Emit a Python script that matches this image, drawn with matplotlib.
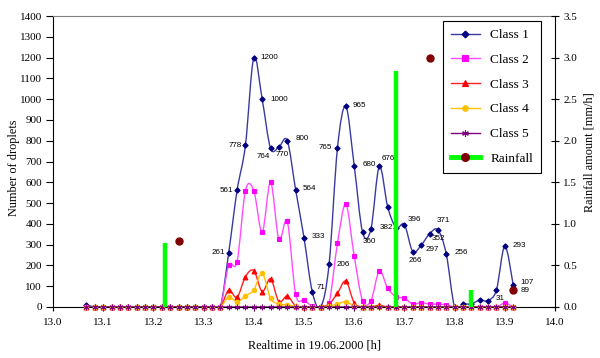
import numpy as np
import matplotlib
matplotlib.use("Agg")
import matplotlib.pyplot as plt
from matplotlib.path import Path
from matplotlib.patches import PathPatch
from matplotlib.lines import Line2D

# minutes after 13:00, one sample per minute
minutes = list(range(4, 56))

class1 = [10] + [0] * 16 + [261, 561, 778, 1200, 1000, 764, 770, 800, 564, 333,
                            71, 0, 206, 765, 965, 680, 360, 375, 676, 482,
                            382, 396, 266, 297, 352, 371, 256, 0, 14, 15,
                            33, 31, 82, 293, 107]
class2 = [0] * 17 + [200, 218, 560, 560, 360, 600, 325, 412, 62, 32,
                     5, 0, 20, 307, 494, 245, 30, 30, 173, 90,
                     50, 42, 14, 21, 14, 14, 10, 0, 0, 0,
                     0, 0, 0, 19, 0]
class3 = [0] * 17 + [80, 47, 146, 175, 74, 136, 26, 53, 5, 0,
                     0, 0, 14, 66, 125, 20, 0, 0, 8, 0] + [0] * 15
class4 = [0] * 17 + [47, 26, 53, 82, 162, 42, 14, 10, 3, 0,
                     0, 0, 5, 14, 26, 5, 0, 0, 0, 0] + [0] * 15
class5 = [0] * 52

rain_bar_time = [13.223, 13.683, 13.833]
rain_bar_amount = [0.77, 2.84, 0.21]
rain_dot_time = [13.25, 13.75, 13.917]
rain_dot_amount = [0.79, 3.0, 0.2]

# data labels on class 1: (index, text)
c1_labels = [(17, "261"), (18, "561"), (19, "778"), (20, "1200"), (21, "1000"),
             (22, "764"), (23, "770"), (24, "800"), (25, "564"), (26, "333"),
             (27, "71"), (29, "206"), (30, "765"), (31, "965"), (32, "680"),
             (33, "360"), (35, "676"), (37, "382"), (38, "396"), (39, "266"),
             (40, "297"), (41, "352"), (42, "371"), (43, "256"), (48, "31"),
             (50, "293"), (51, "107")]
# label placement in pixels (dx, dy downwards, ha)
c1_label_pos = {17: (-4, 0, "right"), 18: (-4, 0, "right"), 19: (-4, 0, "right"),
                20: (7, 0, "left"), 21: (8, 0, "left"), 22: (-7, 8, "center"),
                23: (3, 8, "center"), 24: (8, -2, "left"), 25: (7, -1, "left"),
                26: (8, -1, "left"), 27: (4, -5, "left"), 29: (7, 0, "left"),
                30: (-5, 0, "right"), 31: (7, -1, "left"), 32: (8, -1, "left"),
                33: (7, 9, "center"), 35: (2, -8, "left"), 37: (-3, 0, "right"),
                38: (3, -5, "left"), 39: (3, 9, "center"), 40: (4, 4, "left"),
                41: (2, 5, "left"), 42: (5, -9, "center"), 43: (8, -1, "left"),
                48: (8, -2, "left"), 50: (8, -1, "left"), 51: (7, -2, "left")}

t = np.array([13 + m / 60 for m in minutes])


def smooth_path(xs, ys):
    pts = np.column_stack([xs, ys]).astype(float)
    n = len(pts)
    verts = [pts[0]]
    codes = [Path.MOVETO]
    for i in range(n - 1):
        p0 = pts[max(i - 1, 0)]
        p1 = pts[i]
        p2 = pts[i + 1]
        p3 = pts[min(i + 2, n - 1)]
        verts += [p1 + (p2 - p0) / 6, p2 - (p3 - p1) / 6, p2]
        codes += [Path.CURVE4] * 3
    return Path(verts, codes)


plt.rcParams['font.family'] = ['Liberation Serif', 'DejaVu Serif']

fig = plt.figure(figsize=(6, 3.58), dpi=100)
ax = fig.add_axes([53 / 600, 51 / 358, 502 / 600, 291 / 358])

series = [
    (class1, "Class 1", "#3a3aa0", "#000080", "D", 2.7),
    (class2, "Class 2", "#ff4cff", "#ff00ff", "s", 3.0),
    (class3, "Class 3", "#ff2020", "#ff0000", "^", 3.5),
    (class4, "Class 4", "#ffc000", "#ffc000", "o", 3.2),
    (class5, "Class 5", "#800080", "#800080", (6, 2, 0), 4.0),
]
handles = []
for vals, name, lc, mc, mk, ms in series:
    ax.add_patch(PathPatch(smooth_path(t, vals), facecolor="none",
                           edgecolor=lc, lw=1.0, zorder=2))
    ax.plot(t, vals, ls="none", marker=mk, ms=ms, mfc=mc, mec=mc, mew=0.8,
            clip_on=False, zorder=3)
    handles.append(Line2D([], [], color=lc, lw=1.0, marker=mk, ms=ms + 0.8,
                          mfc=mc, mec=mc, mew=0.8, label=name))

for idx, txt in c1_labels:
    dx, dy, ha = c1_label_pos[idx]
    ax.annotate(txt, (t[idx], class1[idx]), xytext=(dx, -dy),
                textcoords="offset pixels", ha=ha, va="center",
                fontsize=5.8, family="Liberation Sans", zorder=5)

ax.set_xlim(13.0, 14.0)
ax.set_ylim(0, 1400)
ax.set_xticks(np.arange(13.0, 14.01, 0.1))
ax.set_xticklabels([f"{v:.1f}" for v in np.arange(13.0, 14.01, 0.1)])
ax.set_yticks(range(0, 1401, 100))
ax.tick_params(axis="y", direction="out", length=5, width=0.8, labelsize=8, pad=3)
ax.tick_params(axis="x", direction="out", length=3, width=0.8, labelsize=8, pad=5)
ax.spines["top"].set_color("#808080")
ax.spines["right"].set_visible(False)
for s in ("left", "bottom"):
    ax.spines[s].set_linewidth(0.8)

ax2 = ax.twinx()
ax2.set_ylim(0, 3.5)
ax2.set_yticks(np.arange(0, 3.51, 0.5))
ax2.set_yticklabels([f"{v:.1f}" for v in np.arange(0, 3.51, 0.5)])
ax2.tick_params(axis="y", direction="inout", length=6, width=0.8, labelsize=8, pad=3)
ax2.spines["right"].set_linewidth(0.8)
ax2.spines["top"].set_visible(False)
ax2.spines["left"].set_visible(False)
ax2.spines["bottom"].set_visible(False)

ax2.vlines(rain_bar_time, 0, rain_bar_amount, color="#00ff00", lw=3.2, zorder=4)
ax2.plot(rain_dot_time, rain_dot_amount, ls="none", marker="o", ms=5.0,
         mfc="#800000", mec="#800000", zorder=5, clip_on=False)
ax2.annotate("89", (rain_dot_time[2], rain_dot_amount[2]), xytext=(7, 0),
             textcoords="offset pixels", ha="left", va="center",
             fontsize=5.8, family="Liberation Sans")

handles.append(Line2D([], [], color="#00ff00", lw=3.5, marker="o", ms=5.5,
                      mfc="#800000", mec="#800000", label="Rainfall"))
leg = ax2.legend(handles=handles, loc="upper left",
                 bbox_to_anchor=((443 - 53) / 502, (307 - 21) / 291),
                 fontsize=9.5, frameon=True, fancybox=False, edgecolor="black",
                 framealpha=1, labelspacing=0.95, handlelength=2.2,
                 handletextpad=0.8, borderpad=0.6, borderaxespad=0)
leg.get_frame().set_linewidth(0.8)

fig.text(14 / 600, 1 - 168 / 358, "Number of droplets", rotation=90,
         ha="center", va="center", fontsize=8.8)
fig.text(315 / 600, 1 - 346 / 358, "Realtime in 19.06.2000 [h]",
         ha="center", va="center", fontsize=8.8)
fig.text(589 / 600, 1 - 152 / 358, "Rainfall amount [mm/h]", rotation=90,
         ha="center", va="center", fontsize=8.8)

fig.savefig("out.png", dpi=100)
